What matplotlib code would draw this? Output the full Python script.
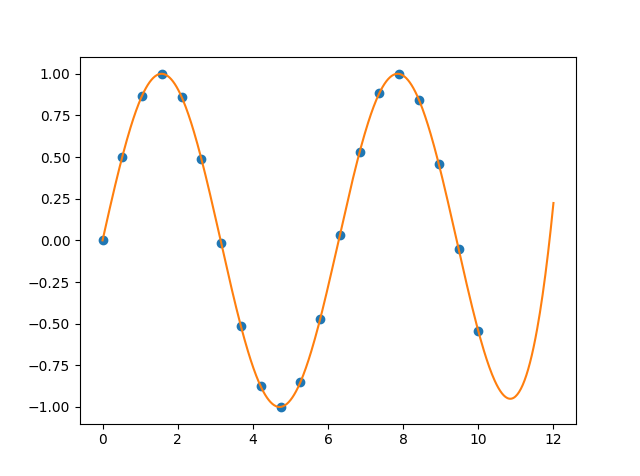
import numpy as np
import matplotlib
matplotlib.use('Agg')
import matplotlib.pyplot as plt

x_pts = [0.0000, 0.5263, 1.0526, 1.5789, 2.1053, 2.6316, 3.1579, 3.6842, 4.2105, 4.7368,
         5.2632, 5.7895, 6.3158, 6.8421, 7.3684, 7.8947, 8.4211, 8.9474, 9.4737, 10.0000]
y_pts = [0.0000, 0.5026, 0.8687, 1.0000, 0.8608, 0.4882, -0.0163, -0.5164, -0.8767, -0.9997,
         -0.8522, -0.4739, 0.0326, 0.5303, 0.8847, 0.9992, 0.8435, 0.4595, -0.0489, -0.5440]

x_min, x_max = 0, 12


def spline_not_a_knot(x, y, xs):
    # spline cubico interpolante con condicion not-a-knot (extrapola con el ultimo tramo)
    x = np.asarray(x, float)
    y = np.asarray(y, float)
    n = len(x)
    h = np.diff(x)
    A = np.zeros((n, n))
    r = np.zeros(n)
    for i in range(1, n - 1):
        A[i, i - 1] = h[i - 1]
        A[i, i] = 2 * (h[i - 1] + h[i])
        A[i, i + 1] = h[i]
        r[i] = 6 * ((y[i + 1] - y[i]) / h[i] - (y[i] - y[i - 1]) / h[i - 1])
    A[0, 0] = -1 / h[0]
    A[0, 1] = 1 / h[0] + 1 / h[1]
    A[0, 2] = -1 / h[1]
    A[-1, -3] = -1 / h[-2]
    A[-1, -2] = 1 / h[-2] + 1 / h[-1]
    A[-1, -1] = -1 / h[-1]
    M = np.linalg.solve(A, r)
    idx = np.clip(np.searchsorted(x, xs) - 1, 0, n - 2)
    t = xs - x[idx]
    hi = h[idx]
    b = (y[idx + 1] - y[idx]) / hi - hi * (2 * M[idx] + M[idx + 1]) / 6
    return y[idx] + b * t + M[idx] / 2 * t ** 2 + (M[idx + 1] - M[idx]) / (6 * hi) * t ** 3


xs = np.linspace(x_min, x_max, 500)
ys = spline_not_a_knot(x_pts, y_pts, xs)

fig, ax = plt.subplots(figsize=(6.4, 4.76), dpi=100)
ax.scatter(x_pts, y_pts)
ax.plot(xs, ys, color='C1')

plt.savefig('out.png', dpi=100)
